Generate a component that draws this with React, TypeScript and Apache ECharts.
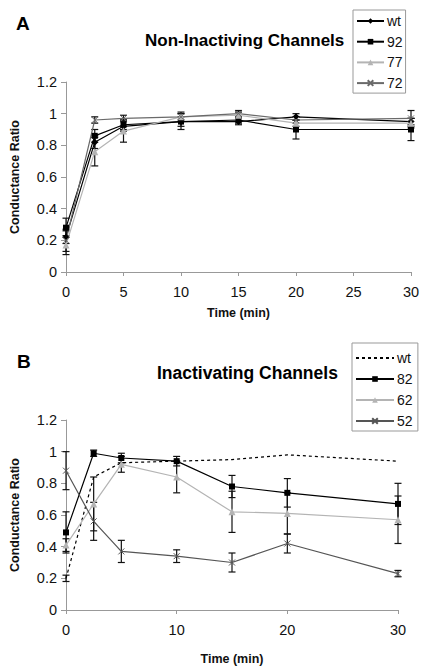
import React, { useEffect, useRef } from "react";
import * as echarts from "echarts";

const TIMES = [0, 2.5, 5, 10, 15, 20, 30];

// Panel A: non-inactivating
const wtA = [0.22, 0.82, 0.92, 0.95, 0.95, 0.98, 0.95];
const errWtA = [0.04, 0.04, 0.03, 0.05, 0.02, 0.02, 0.02];
const s92 = [0.28, 0.86, 0.93, 0.95, 0.96, 0.9, 0.9];
const err92 = [0.06, 0.04, 0.03, 0.03, 0.02, 0.06, 0.07];
const s77 = [0.17, 0.76, 0.89, 0.98, 0.99, 0.94, 0.94];
const err77 = [0.06, 0.09, 0.07, 0.03, 0.02, 0.02, 0.03];
const s72 = [0.2, 0.96, 0.97, 0.98, 1.0, 0.96, 0.97];
const err72 = [0.07, 0.02, 0.02, 0.02, 0.02, 0.02, 0.05];

// Panel B: inactivating
const wtB = [0.2, 0.84, 0.93, 0.94, 0.95, 0.98, 0.94];
const errWtB = [0.02, 0, 0, 0, 0, 0, 0];
const s82 = [0.49, 0.99, 0.96, 0.94, 0.78, 0.74, 0.67];
const err82 = [0.13, 0.02, 0.03, 0.03, 0.07, 0.09, 0.13];
const s62 = [0.41, 0.67, 0.92, 0.84, 0.62, 0.61, 0.57];
const err62 = [0.04, 0.17, 0.05, 0.1, 0.13, 0.13, 0.15];
const s52 = [0.88, 0.56, 0.37, 0.34, 0.3, 0.42, 0.23];
const err52 = [0.12, 0.12, 0.07, 0.04, 0.06, 0.06, 0.02];

const FONT = "Liberation Sans, Arial, sans-serif";
const XSYM = "path://M0,0L10,10M10,0L0,10";

function pts(vals: number[]) {
  return TIMES.map((t, i) => [t, vals[i]]);
}
function errs(vals: number[], e: number[]) {
  return TIMES.map((t, i) => [t, vals[i] - e[i], vals[i] + e[i]]);
}

function errSeries(vals: number[], e: number[], idx: number) {
  return {
    type: "custom",
    xAxisIndex: idx,
    yAxisIndex: idx,
    silent: true,
    z: 1,
    data: errs(vals, e),
    renderItem: (params: any, api: any) => {
      const x = api.value(0);
      const lo = api.value(1);
      const hi = api.value(2);
      if (hi - lo < 0.001) return null;
      const p1 = api.coord([x, lo]);
      const p2 = api.coord([x, hi]);
      const w = 3.5;
      const st = { stroke: "#111", lineWidth: 1.2 };
      return {
        type: "group",
        children: [
          { type: "line", shape: { x1: p1[0], y1: p1[1], x2: p2[0], y2: p2[1] }, style: st },
          { type: "line", shape: { x1: p1[0] - w, y1: p1[1], x2: p1[0] + w, y2: p1[1] }, style: st },
          { type: "line", shape: { x1: p2[0] - w, y1: p2[1], x2: p2[0] + w, y2: p2[1] }, style: st },
        ],
      };
    },
  };
}

function lineSeries(name: string, vals: number[], idx: number, color: string, symbol: string, size: number, extra: any = {}) {
  return {
    type: "line",
    name,
    xAxisIndex: idx,
    yAxisIndex: idx,
    data: pts(vals),
    symbol,
    symbolSize: size,
    z: 3,
    lineStyle: { color, width: 1.2, ...(extra.lineStyle || {}) },
    itemStyle: { color, borderColor: color, borderWidth: symbol === XSYM ? 1 : 0 },
  };
}

const axisText = { fontFamily: FONT, fontSize: 14.5, color: "#111" };
const nameText = { fontFamily: FONT, fontSize: 12.5, fontWeight: "bold" as const, color: "#111" };

function yAxis(idx: number) {
  return {
    type: "value",
    gridIndex: idx,
    min: 0,
    max: 1.2,
    interval: 0.2,
    name: "Conductance Ratio",
    nameLocation: "middle",
    nameGap: 45,
    nameRotate: 90,
    nameTextStyle: nameText,
    axisLine: { show: true, lineStyle: { color: "#999", width: 1 } },
    axisTick: { show: true, length: 5, lineStyle: { color: "#999" } },
    splitLine: { show: false },
    axisLabel: { ...axisText, margin: 9 },
  };
}

function xAxis(idx: number, interval: number, gap: number) {
  return {
    type: "value",
    gridIndex: idx,
    min: 0,
    max: 30,
    interval,
    name: "Time (min)",
    nameLocation: "middle",
    nameGap: gap,
    nameTextStyle: nameText,
    axisLine: { show: true, lineStyle: { color: "#999", width: 1 } },
    axisTick: { show: true, length: 4, lineStyle: { color: "#999" } },
    splitLine: { show: false },
    axisLabel: { ...axisText, margin: 12 },
  };
}

const legendText = { fontFamily: FONT, fontSize: 14, color: "#111", padding: [0, 0, 0, -2] };

export default function App() {
  const ref = useRef<HTMLDivElement>(null);
  useEffect(() => {
    document.body.style.margin = "0";
    const chart = echarts.init(ref.current!, null, { renderer: "svg" });
    const option: any = {
      animation: false,
      backgroundColor: "#fff",
      title: [
        { text: "A", left: 11, top: 9, textStyle: { fontFamily: FONT, fontSize: 19, fontWeight: "bold", color: "#000" } },
        { text: "Non-Inactiving Channels", left: 140, top: 27, textStyle: { fontFamily: FONT, fontSize: 17, fontWeight: "bold", color: "#000" } },
        { text: "B", left: 12, top: 347, textStyle: { fontFamily: FONT, fontSize: 19, fontWeight: "bold", color: "#000" } },
        { text: "Inactivating Channels", left: 152, top: 359, textStyle: { fontFamily: FONT, fontSize: 17.5, fontWeight: "bold", color: "#000" } },
      ],
      grid: [
        { left: 62, top: 82, width: 349, height: 190 },
        { left: 62, top: 420, width: 336, height: 190 },
      ],
      xAxis: [xAxis(0, 5, 34), xAxis(1, 10, 42)],
      yAxis: [yAxis(0), yAxis(1)],
      legend: [
        {
          data: ["wt", "92", "77", "72"],
          orient: "vertical",
          left: 353,
          top: 10,
          padding: [4, 3, 3, 3],
          itemWidth: 27,
          itemHeight: 7,
          itemGap: 6.7,
          borderColor: "#999",
          borderWidth: 1,
          textStyle: legendText,
        },
        {
          data: [{ name: "wt ", itemStyle: { opacity: 0 } }, "82", "62", "52"],
          orient: "vertical",
          left: 352,
          top: 343,
          padding: [8, 3, 3, 3],
          itemWidth: 38,
          itemHeight: 7,
          itemGap: 7,
          borderColor: "#999",
          borderWidth: 1,
          textStyle: legendText,
        },
      ],
      series: [
        errSeries(wtA, errWtA, 0),
        errSeries(s92, err92, 0),
        errSeries(s77, err77, 0),
        errSeries(s72, err72, 0),
        lineSeries("wt", wtA, 0, "#000", "diamond", 7),
        lineSeries("92", s92, 0, "#000", "rect", 6),
        lineSeries("77", s77, 0, "#b4b4b4", "triangle", 7),
        lineSeries("72", s72, 0, "#6a6a6a", XSYM, 6),

        errSeries(wtB, errWtB, 1),
        errSeries(s82, err82, 1),
        errSeries(s62, err62, 1),
        errSeries(s52, err52, 1),
        lineSeries("wt ", wtB, 1, "#000", "none", 0, { lineStyle: { type: [3, 3] } }),
        lineSeries("82", s82, 1, "#000", "rect", 6),
        lineSeries("62", s62, 1, "#b4b4b4", "triangle", 7),
        lineSeries("52", s52, 1, "#555", XSYM, 6),
      ],
    };
    chart.setOption(option);
    return () => chart.dispose();
  }, []);
  return <div ref={ref} style={{ position: "absolute", left: 0, top: 0, width: 425, height: 672 }} />;
}
